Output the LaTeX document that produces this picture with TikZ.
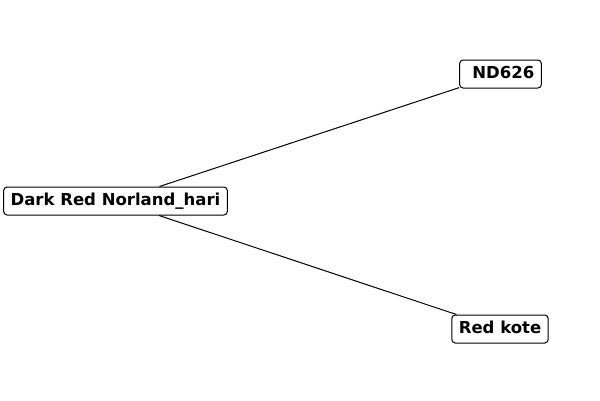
\documentclass[tikz,border=0pt]{standalone}
\usepackage{fontspec}
\setmainfont{DejaVu Sans}
\begin{document}
\begin{tikzpicture}[x=1pt,y=-1pt,
  lbl/.style={draw=black,fill=white,rounded corners=3.5pt,line width=1pt,
    font=\bfseries\fontsize{16.5}{19}\selectfont,inner xsep=7pt,inner ysep=0pt,
    minimum height=28pt,text height=12pt,text depth=3pt},
  edge/.style={draw=black,line width=1pt}]
\useasboundingbox (0,0) rectangle (600,400);
\node[lbl] (a) at (115.5,201) {Dark Red Norland\_hari};
\node[lbl] (b) at (500.5,74) {\ ND626};
\node[lbl] (c) at (500,329) {Red kote\ };
\draw[edge] (a) -- (b);
\draw[edge] (a) -- (c);
\end{tikzpicture}
\end{document}
